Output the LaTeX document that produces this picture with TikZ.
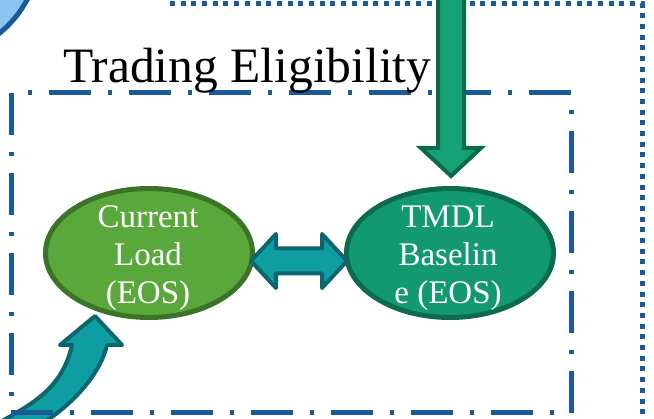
\documentclass[tikz,border=0pt]{standalone}
\usepackage{fontspec}
\setmainfont{Liberation Serif}
\usetikzlibrary{shapes.geometric}
\definecolor{lineblue}{HTML}{1B5A98}
\definecolor{lightblue}{HTML}{8EC4F1}
\definecolor{arrowgreen}{HTML}{15A075}
\definecolor{arrowgreendk}{HTML}{0B6B48}
\definecolor{loadfill}{HTML}{5AA83C}
\definecolor{loaddraw}{HTML}{3B7426}
\definecolor{basefill}{HTML}{12996F}
\definecolor{basedraw}{HTML}{0C6A4D}
\definecolor{tealfill}{HTML}{0E9EA2}
\definecolor{tealdraw}{HTML}{0B6670}
\tikzset{
  dotline/.style={lineblue, line width=5pt, dash pattern=on 5pt off 5.7pt},
  dashdotline/.style={lineblue, line width=5pt, dash pattern=on 42pt off 17pt on 4pt off 17pt, dash phase=42pt},
  blockteal/.style={draw=tealdraw, fill=tealfill, line width=4pt, line join=round},
  blockgreen/.style={draw=arrowgreendk, fill=arrowgreen, line width=4pt, line join=miter},
  oval/.style={ellipse, line width=5pt, minimum width=207pt, minimum height=129pt, inner sep=0pt},
  ovaltext/.style={text=white, align=center, inner sep=0pt, font=\fontsize{33}{38}\selectfont}
}
\begin{document}
\begin{tikzpicture}[x=1pt,y=-1pt]
\useasboundingbox (0,0) rectangle (654,419);
\clip (0,0) rectangle (654,419);
\fill[white] (0,0) rectangle (654,419);
% corner circle
\draw[line width=5pt, draw=lineblue, fill=lightblue] (-70,-52) circle (110pt);
% dotted frame
\draw[dotline] (642,425) -- (642,4) -- (165,4);
% curved arrow (under the dash-dot frame)
\draw[blockteal] (-5,425) .. controls (30,405) and (62,390) .. (72,345)
  -- (60,345) -- (95,316) -- (122,345) -- (107,345)
  .. controls (102,368) and (80,400) .. (40,425) -- cycle;
% dash-dot frame
\draw[dashdotline] (11,93) -- (571,93) -- (571,413) -- (11,413) -- cycle;
% title
\node[anchor=base west, inner sep=0pt, font=\fontsize{49.5}{58}\selectfont] (title) at (63,83) {Trading Eligibility};
% down arrow
\draw[blockgreen] (438,-10) -- (438,148) -- (421,148) -- (451,176) -- (481,148) -- (464,148) -- (464,-10) -- cycle;
% ellipses
\node[oval, draw=loaddraw, fill=loadfill] (load) at (149,253) {};
\node[ovaltext] (loadtext) at (148,258) {Current\\Load\\(EOS)};
\node[oval, draw=basedraw, fill=basefill] (base) at (450,253) {};
\node[ovaltext] (basetext) at (448,258) {TMDL\\Baselin\\e (EOS)};
% double arrow
\draw[blockteal] (251,261) -- (276,234) -- (276,248.5) -- (322,248.5) -- (322,234) -- (347,261)
  -- (322,288) -- (322,273.5) -- (276,273.5) -- (276,288) -- cycle;
\end{tikzpicture}
\end{document}
